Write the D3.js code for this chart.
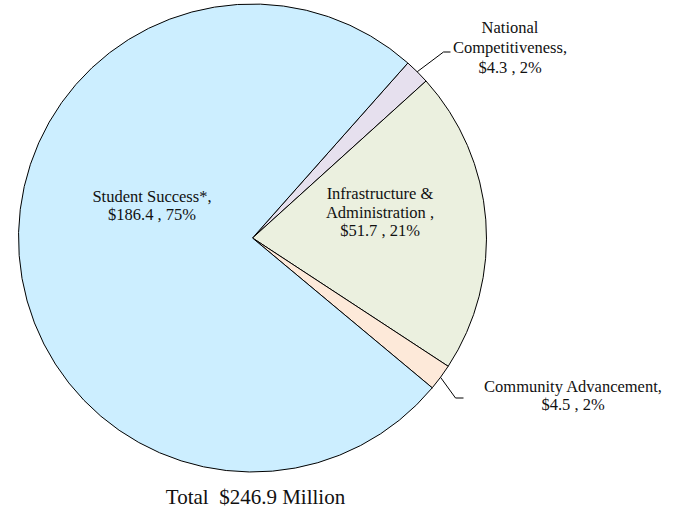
<!DOCTYPE html>
<html>
<head>
<meta charset="utf-8">
<script src="https://cdn.jsdelivr.net/npm/d3@7"></script>
<style>
  html, body { margin: 0; padding: 0; background: #ffffff; }
  svg { display: block; }
  text { font-family: "Liberation Serif", "Times New Roman", serif; fill: #111; }
</style>
</head>
<body>
<svg id="chart" width="679" height="511"></svg>
<script>
// Budget allocation ($ millions), listed clockwise starting at the small top-right slice
const categories = ["National Competitiveness", "Infrastructure & Administration", "Community Advancement", "Student Success*"];
const values = [4.3, 51.7, 4.5, 186.4];
const percents = ["2%", "21%", "2%", "75%"];
const labelLines = [
  ["National", "Competitiveness,", "$4.3 , 2%"],
  ["Infrastructure &", "Administration ,", "$51.7 , 21%"],
  ["Community Advancement,", "$4.5 , 2%"],
  ["Student Success*,", "$186.4 , 75%"]
];
const colors = ["#e6e0ee", "#ebf0df", "#fde9d9", "#cceeff"];
const totalLabel = "Total  $246.9 Million";

const svg = d3.select("#chart");
const cx = 252.5, cy = 238, radius = 234;
const startDeg = 41.6;

const pie = d3.pie().sort(null).value(d => d)
  .startAngle(startDeg * Math.PI / 180)
  .endAngle(startDeg * Math.PI / 180 + 2 * Math.PI);
const arcs = pie(values);
const arc = d3.arc().innerRadius(0).outerRadius(radius);

const g = svg.append("g").attr("transform", `translate(${cx},${cy})`);

g.selectAll("path.slice")
  .data(arcs)
  .join("path")
  .attr("class", "slice")
  .attr("d", arc)
  .attr("fill", (d, i) => colors[i])
  .attr("stroke", "#000")
  .attr("stroke-width", 1)
  .attr("stroke-linejoin", "round");

// Label placement (first baseline, relative to the pie centre) and leader-line elbows for the thin slices
const labelPos = [
  { x: 257.5, y: -204.7, lh: 19.7, leader: { elbow: [191, -186], end: [198, -186] } },
  { x: 127.5, y: -38.7, lh: 18.4 },
  { x: 320.5, y: 153.7, lh: 18.6, leader: { elbow: [203, 160], end: [211, 160] } },
  { x: -100.5, y: -36.3, lh: 18.4 }
];
const fontSize = 16.5;

arcs.forEach((a, i) => {
  const p = labelPos[i];
  if (p.leader) {
    const mid = (a.startAngle + a.endAngle) / 2;
    const sx = radius * Math.sin(mid), sy = -radius * Math.cos(mid);
    g.append("polyline")
      .attr("points", [[sx, sy], p.leader.elbow, p.leader.end].map(q => q.join(",")).join(" "))
      .attr("fill", "none")
      .attr("stroke", "#000")
      .attr("stroke-width", 1);
  }
  const t = g.append("text")
    .attr("text-anchor", "middle")
    .attr("font-size", fontSize);
  labelLines[i].forEach((line, k) => {
    t.append("tspan")
      .attr("x", p.x)
      .attr("y", p.y + k * p.lh)
      .text(line);
  });
});

svg.append("text")
  .attr("x", 255.5)
  .attr("y", 504)
  .attr("text-anchor", "middle")
  .attr("font-size", 21)
  .style("white-space", "pre")
  .text(totalLabel);
</script>
</body>
</html>
